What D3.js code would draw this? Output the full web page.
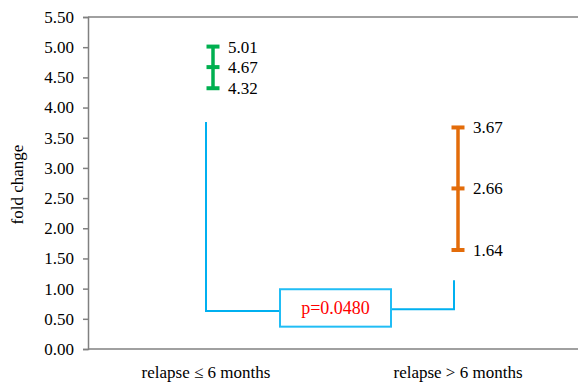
<!DOCTYPE html>
<html>
<head>
<meta charset="utf-8">
<script src="https://cdn.jsdelivr.net/npm/d3@7"></script>
<style>
  body { margin: 0; background: #fff; }
  text { font-family: "Liberation Serif", "Times New Roman", serif; }
</style>
</head>
<body>
<div id="graphic"></div>
<script>
// data
const categories = ["relapse \u2264 6 months", "relapse > 6 months"];
const lowValues = [4.32, 1.64];
const midValues = [4.67, 2.66];
const highValues = [5.01, 3.67];
const barColors = ["#00b050", "#e36c0a"];
const yTicks = [0, 0.5, 1, 1.5, 2, 2.5, 3, 3.5, 4, 4.5, 5, 5.5];
// bracket: top of left leg, bottom of left leg, bottom of right leg, top of right leg
const bracketValues = [3.76, 0.63, 0.66, 1.14];
const pLabel = "p=0.0480";
const pBox = [0.37, 0.99];

const W = 578, H = 385;
const margin = { top: 17, right: 0, bottom: 36, left: 88 },
    height = H - margin.top - margin.bottom;

const svg = d3.select("#graphic")
    .append("svg")
    .attr("width", W)
    .attr("height", H);

const y = d3.scaleLinear()
    .domain([0, 5.5])
    .range([margin.top + height, margin.top]);

const x = d3.scalePoint()
    .domain(categories)
    .range([206, 458]);

// Y axis
const yAxis = svg.append("g")
    .attr("transform", `translate(${margin.left},0)`)
    .call(d3.axisLeft(y).tickValues(yTicks).tickFormat(d3.format(".2f")).tickSize(5).tickPadding(9));
yAxis.select(".domain").attr("stroke", "#808080").attr("stroke-width", 1.5);
yAxis.selectAll(".tick line").attr("stroke", "#808080").attr("stroke-width", 1.5);
yAxis.selectAll("text")
    .attr("fill", "#000")
    .style("font-size", "17px")
    .style("font-family", "Liberation Serif");

// top and bottom border lines
[0, 5.5].forEach(v => {
    svg.append("line")
        .attr("x1", margin.left).attr("x2", W)
        .attr("y1", y(v)).attr("y2", y(v))
        .attr("stroke", "#808080").attr("stroke-width", 1.5);
});

// category labels
svg.selectAll(".cat")
    .data(categories)
    .join("text")
    .attr("x", d => x(d))
    .attr("y", 378)
    .attr("text-anchor", "middle")
    .style("font-size", "17px")
    .text(d => d);

// Y title
svg.append("text")
    .attr("transform", `translate(23,${(margin.top + height) / 2 + 10}) rotate(-90)`)
    .attr("text-anchor", "middle")
    .style("font-size", "17px")
    .text("fold change");

// bracket
const leftX = x(categories[0]), rightX = x(categories[1]) - 4;
const boxX0 = 280, boxX1 = 391;
svg.append("path")
    .attr("d", `M${leftX},${y(bracketValues[0])}V${y(bracketValues[1])}H${boxX0}`)
    .attr("fill", "none").attr("stroke", "#00b0f0").attr("stroke-width", 2);
svg.append("path")
    .attr("d", `M${boxX1},${y(bracketValues[2])}H${rightX}V${y(bracketValues[3])}`)
    .attr("fill", "none").attr("stroke", "#00b0f0").attr("stroke-width", 2);
svg.append("rect")
    .attr("x", boxX0).attr("y", y(pBox[1]))
    .attr("width", boxX1 - boxX0).attr("height", y(pBox[0]) - y(pBox[1]))
    .attr("fill", "#fff").attr("stroke", "#21bdf5").attr("stroke-width", 2);
svg.append("text")
    .attr("x", (boxX0 + boxX1) / 2)
    .attr("y", (y(pBox[0]) + y(pBox[1])) / 2)
    .attr("dy", "0.35em")
    .attr("text-anchor", "middle")
    .attr("fill", "#ff0000")
    .style("font-size", "18px")
    .text(pLabel);

// error bars
const offsets = [7, 0];
const capW = 13;
categories.forEach((c, i) => {
    const cx = x(c) + offsets[i];
    const g = svg.append("g");
    g.append("line")
        .attr("x1", cx).attr("x2", cx)
        .attr("y1", y(highValues[i])).attr("y2", y(lowValues[i]))
        .attr("stroke", barColors[i]).attr("stroke-width", 3.5);
    [lowValues[i], midValues[i], highValues[i]].forEach(v => {
        g.append("line")
            .attr("x1", cx - capW / 2).attr("x2", cx + capW / 2)
            .attr("y1", y(v)).attr("y2", y(v))
            .attr("stroke", barColors[i]).attr("stroke-width", 4);
        g.append("text")
            .attr("x", cx + 15)
            .attr("y", y(v))
            .attr("dy", "0.35em")
            .style("font-size", "17px")
            .text(v.toFixed(2));
    });
});
</script>
</body>
</html>
